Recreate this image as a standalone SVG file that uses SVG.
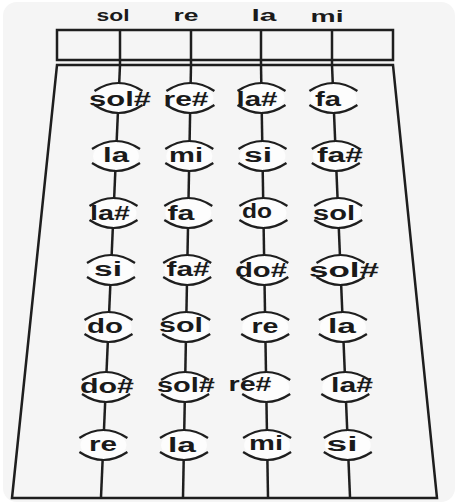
<svg xmlns="http://www.w3.org/2000/svg" xmlns:xlink="http://www.w3.org/1999/xlink" width="459" height="504" viewBox="0 0 459 504">
<style>
.ln{stroke:#1e1e1e;stroke-width:2.5;fill:none;stroke-linecap:butt}
.arc{stroke:#1e1e1e;stroke-width:2.2;fill:none}
.hole{fill:#fdfdfd;stroke:none}
.t{font-family:"Liberation Sans",Arial,sans-serif;font-weight:bold;font-size:20px;fill:#1a1a1a;text-anchor:middle}
.h{font-family:"Liberation Sans",Arial,sans-serif;font-weight:bold;font-size:17px;fill:#1a1a1a;text-anchor:middle}
</style>
<defs>
<g id="cap"><ellipse rx="23" ry="14" class="hole"/><path class="arc" d="M-24,-7 Q0,-23 24,-7 M-24,7 Q0,23 24,7"/></g>
</defs>
<rect x="3" y="2" width="452" height="500" rx="14" fill="#f5f5f5"/>
<g id="nut">
<rect x="57" y="30" width="336" height="30" class="ln" fill="#f7f7f7"/>
<text class="h" x="113" y="21" textLength="33" lengthAdjust="spacingAndGlyphs">sol</text>
<text class="h" x="186" y="21" textLength="25" lengthAdjust="spacingAndGlyphs">re</text>
<text class="h" x="264" y="21" textLength="25" lengthAdjust="spacingAndGlyphs">la</text>
<text class="h" x="327" y="22" textLength="33" lengthAdjust="spacingAndGlyphs">mi</text>
</g>
<g id="neck">
<path class="ln" d="M12,498 L57,65 L393,65 L437,498 Z"/>
</g>
<g id="connectors">
<line class="ln" x1="120" y1="30" x2="120" y2="65"/>
<line class="ln" x1="191" y1="30" x2="191" y2="65"/>
<line class="ln" x1="261" y1="30" x2="261" y2="65"/>
<line class="ln" x1="332" y1="30" x2="332" y2="65"/>
<line class="ln" x1="120" y1="65" x2="101" y2="497"/>
<line class="ln" x1="191" y1="65" x2="183" y2="497"/>
<line class="ln" x1="261" y1="65" x2="268" y2="497"/>
<line class="ln" x1="332" y1="65" x2="350" y2="497"/>
</g>
<!-- row 1 -->
<g id="n1-1"><use xlink:href="#cap" x="118.5" y="98"/><text class="t" x="120" y="106" textLength="62" lengthAdjust="spacingAndGlyphs">sol#</text></g>
<g id="n1-2"><use xlink:href="#cap" x="190.4" y="98"/><text class="t" x="186" y="106" textLength="45" lengthAdjust="spacingAndGlyphs">re#</text></g>
<g id="n1-3"><use xlink:href="#cap" x="261.5" y="98"/><text class="t" x="257" y="106" textLength="41" lengthAdjust="spacingAndGlyphs">la#</text></g>
<g id="n1-4"><use xlink:href="#cap" x="333.4" y="98"/><text class="t" x="328" y="106" textLength="26" lengthAdjust="spacingAndGlyphs">fa</text></g>
<!-- row 2 -->
<g id="n2-1"><use xlink:href="#cap" x="116" y="156"/><text class="t" x="116" y="162" textLength="26" lengthAdjust="spacingAndGlyphs">la</text></g>
<g id="n2-2"><use xlink:href="#cap" x="189.3" y="156"/><text class="t" x="186" y="162" textLength="34" lengthAdjust="spacingAndGlyphs">mi</text></g>
<g id="n2-3"><use xlink:href="#cap" x="262.5" y="156"/><text class="t" x="258" y="162" textLength="28" lengthAdjust="spacingAndGlyphs">si</text></g>
<g id="n2-4"><use xlink:href="#cap" x="335.8" y="156"/><text class="t" x="340" y="162" textLength="46" lengthAdjust="spacingAndGlyphs">fa#</text></g>
<!-- row 3 -->
<g id="n3-1"><use xlink:href="#cap" x="113.5" y="213"/><text class="t" x="110" y="220" textLength="40" lengthAdjust="spacingAndGlyphs">la#</text></g>
<g id="n3-2"><use xlink:href="#cap" x="188.3" y="213"/><text class="t" x="181" y="220" textLength="27" lengthAdjust="spacingAndGlyphs">fa</text></g>
<g id="n3-3"><use xlink:href="#cap" x="263.4" y="213"/><text class="t" x="257" y="218" textLength="30" lengthAdjust="spacingAndGlyphs">do</text></g>
<g id="n3-4"><use xlink:href="#cap" x="338.2" y="213"/><text class="t" x="334" y="220" textLength="42" lengthAdjust="spacingAndGlyphs">sol</text></g>
<!-- row 4 -->
<g id="n4-1"><use xlink:href="#cap" x="111" y="270"/><text class="t" x="108" y="276" textLength="28" lengthAdjust="spacingAndGlyphs">si</text></g>
<g id="n4-2"><use xlink:href="#cap" x="187.2" y="270"/><text class="t" x="188" y="276" textLength="43" lengthAdjust="spacingAndGlyphs">fa#</text></g>
<g id="n4-3"><use xlink:href="#cap" x="264.3" y="270"/><text class="t" x="261" y="277" textLength="52" lengthAdjust="spacingAndGlyphs">do#</text></g>
<g id="n4-4"><use xlink:href="#cap" x="340.5" y="270"/><text class="t" x="344" y="277" textLength="70" lengthAdjust="spacingAndGlyphs">sol#</text></g>
<!-- row 5 -->
<g id="n5-1"><use xlink:href="#cap" x="108.5" y="327"/><text class="t" x="105" y="333" textLength="36" lengthAdjust="spacingAndGlyphs">do</text></g>
<g id="n5-2"><use xlink:href="#cap" x="186.2" y="327"/><text class="t" x="181" y="332" textLength="44" lengthAdjust="spacingAndGlyphs">sol</text></g>
<g id="n5-3"><use xlink:href="#cap" x="265.2" y="327"/><text class="t" x="265" y="333" textLength="27" lengthAdjust="spacingAndGlyphs">re</text></g>
<g id="n5-4"><use xlink:href="#cap" x="342.9" y="327"/><text class="t" x="342" y="333" textLength="28" lengthAdjust="spacingAndGlyphs">la</text></g>
<!-- row 6 -->
<g id="n6-1"><use xlink:href="#cap" x="106" y="387"/><text class="t" x="107" y="393" textLength="54" lengthAdjust="spacingAndGlyphs">do#</text></g>
<g id="n6-2"><use xlink:href="#cap" x="185.1" y="387"/><text class="t" x="186" y="392" textLength="58" lengthAdjust="spacingAndGlyphs">sol#</text></g>
<g id="n6-3"><use xlink:href="#cap" x="266.2" y="387"/><text class="t" x="250" y="391" textLength="43" lengthAdjust="spacingAndGlyphs">re#</text></g>
<g id="n6-4"><use xlink:href="#cap" x="345.3" y="387"/><text class="t" x="352" y="392" textLength="42" lengthAdjust="spacingAndGlyphs">la#</text></g>
<!-- row 7 -->
<g id="n7-1"><use xlink:href="#cap" x="103.4" y="445"/><text class="t" x="103" y="451" textLength="28" lengthAdjust="spacingAndGlyphs">re</text></g>
<g id="n7-2"><use xlink:href="#cap" x="184" y="445"/><text class="t" x="182" y="452" textLength="28" lengthAdjust="spacingAndGlyphs">la</text></g>
<g id="n7-3"><use xlink:href="#cap" x="267.1" y="445"/><text class="t" x="266" y="450" textLength="34" lengthAdjust="spacingAndGlyphs">mi</text></g>
<g id="n7-4"><use xlink:href="#cap" x="347.8" y="445"/><text class="t" x="342" y="451" textLength="31" lengthAdjust="spacingAndGlyphs">si</text></g>
</svg>
